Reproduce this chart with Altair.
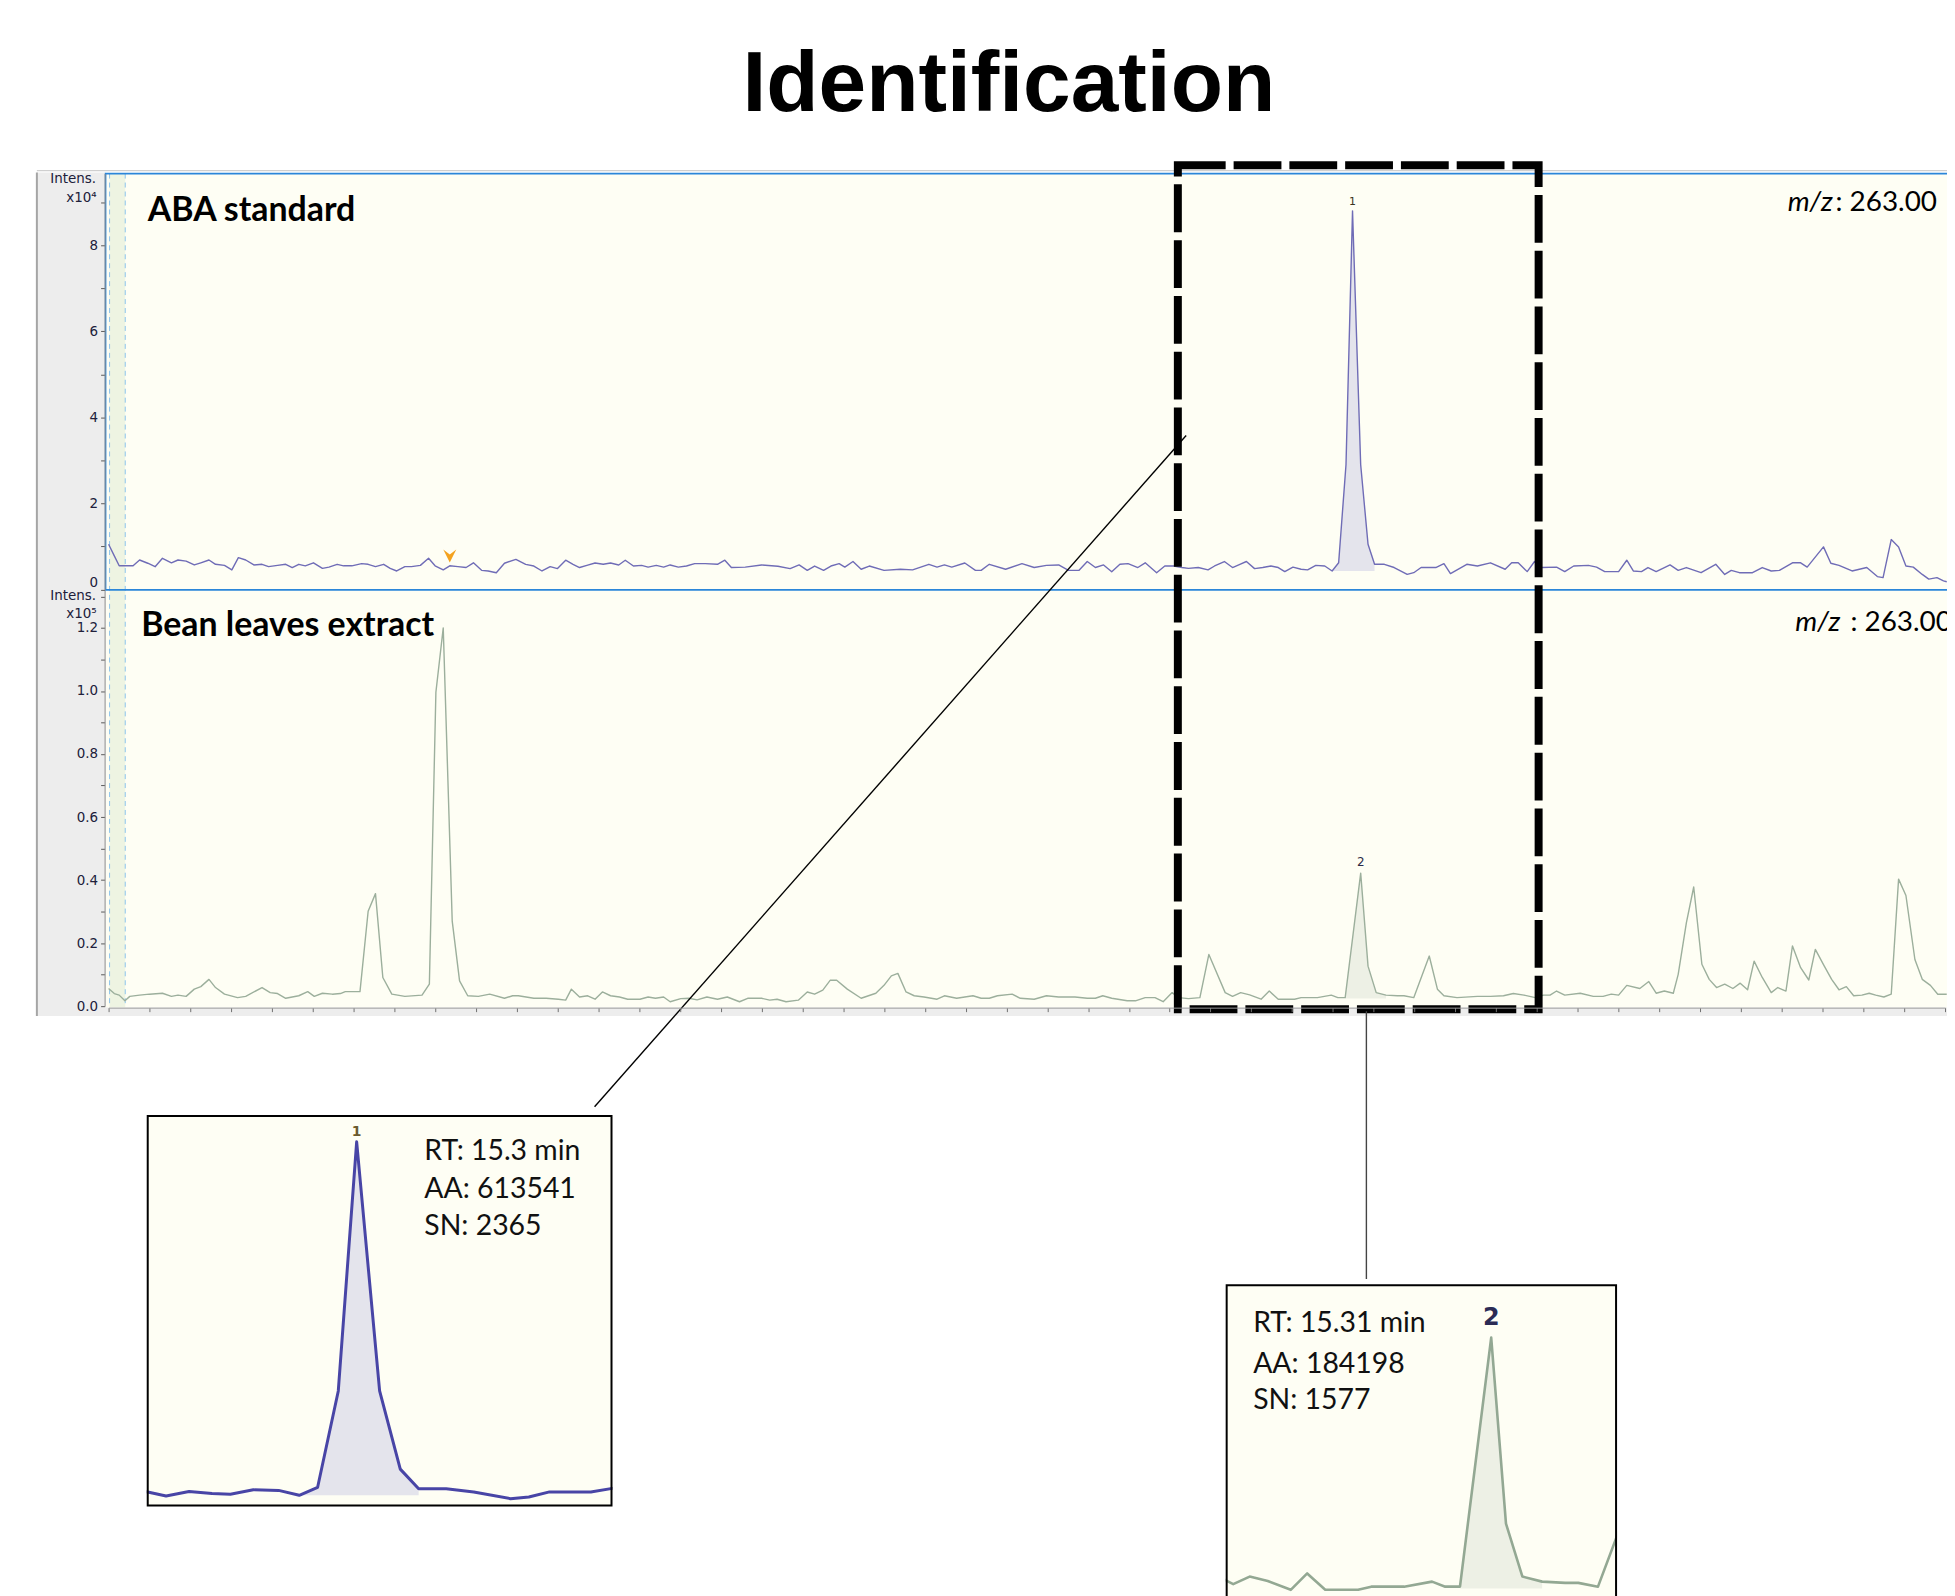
import altair as alt
import pandas as pd

# ---------------- data ----------------
title_text = "Identification"
panel_titles = ["ABA standard", "Bean leaves extract"]
mz_label = ["m/z", ": 263.00"]
intens_labels = ["Intens.", "x10\u2074", "x10\u2075"]
inset1_lines = ["RT: 15.3 min", "AA: 613541", "SN: 2365"]
inset2_lines = ["RT: 15.31 min", "AA: 184198", "SN: 1577"]

# ABA standard EIC (time in min, intensity in 1e4 counts)
aba_time = [
    0.00, 0.07, 0.13, 0.20, 0.30, 0.38, 0.48, 0.57, 0.66, 0.77,
    0.85, 0.95, 1.05, 1.13, 1.23, 1.31, 1.42, 1.51, 1.59, 1.68,
    1.78, 1.88, 1.96, 2.07, 2.17, 2.25, 2.33, 2.41, 2.51, 2.62,
    2.70, 2.80, 2.88, 2.98, 3.10, 3.18, 3.27, 3.37, 3.45, 3.53,
    3.63, 3.71, 3.82, 3.92, 4.00, 4.10, 4.18, 4.28, 4.38, 4.47,
    4.57, 4.65, 4.75, 4.85, 4.99,
    5.11, 5.21, 5.31, 5.41, 5.50, 5.60, 5.69, 5.77, 5.86, 5.96,
    6.06, 6.15, 6.25, 6.33, 6.43, 6.53, 6.61, 6.71, 6.80, 6.88,
    6.98, 7.08, 7.18, 7.31, 7.46, 7.55, 7.63, 7.80, 8.00, 8.20,
    8.35, 8.46, 8.56, 8.65, 8.76, 8.85, 8.95, 9.02, 9.12, 9.22,
    9.32, 9.50, 9.70, 9.85, 10.05, 10.15, 10.24, 10.33, 10.49, 10.62,
    10.69, 10.79, 10.99, 11.19, 11.34, 11.49, 11.64, 11.76, 11.89, 11.99,
    12.09, 12.19, 12.29, 12.39, 12.49, 12.61,
    12.70, 12.84, 12.94, 13.05, 13.15, 13.23, 13.35, 13.47, 13.55, 13.67,
    13.77, 13.86, 13.94, 14.04, 14.14, 14.24, 14.33, 14.41, 14.51, 14.61,
    14.69, 14.79, 14.90, 14.99, 15.07, 15.16, 15.24, 15.34, 15.43, 15.51,
    15.63, 15.75, 15.91, 15.99, 16.08, 16.26, 16.36, 16.44, 16.64, 16.77,
    16.93,
    17.11, 17.19, 17.27, 17.38, 17.47, 17.56, 17.74, 17.84, 17.95, 18.13,
    18.23, 18.33, 18.50, 18.60, 18.68, 18.78, 18.86, 18.96, 19.13, 19.23,
    19.33, 19.51, 19.69, 19.80, 19.88, 19.98, 20.14, 20.26, 20.37, 20.47,
    20.63, 20.73, 20.81, 21.01, 21.10, 21.20, 21.36, 21.54, 21.67, 21.74,
    21.84, 21.93, 22.02, 22.11, 22.22, 22.30, 22.40, 22.48, 22.52,
]
aba_int = [
    1.05, 0.78, 0.55, 0.55, 0.55, 0.685, 0.61, 0.53, 0.725, 0.62,
    0.685, 0.66, 0.57, 0.62, 0.685, 0.585, 0.56, 0.455, 0.74, 0.685,
    0.57, 0.585, 0.53, 0.56, 0.585, 0.51, 0.585, 0.55, 0.62, 0.49,
    0.52, 0.585, 0.55, 0.55, 0.60, 0.585, 0.53, 0.585, 0.49, 0.43,
    0.53, 0.53, 0.56, 0.725, 0.55, 0.455, 0.55, 0.53, 0.51, 0.62,
    0.445, 0.43, 0.39, 0.61, 0.70,
    0.585, 0.545, 0.43, 0.53, 0.485, 0.68, 0.585, 0.51, 0.56, 0.615,
    0.585, 0.615, 0.57, 0.68, 0.545, 0.56, 0.52, 0.56, 0.52, 0.57,
    0.52, 0.545, 0.60, 0.60, 0.585, 0.68, 0.51, 0.52, 0.57, 0.54,
    0.485, 0.57, 0.445, 0.545, 0.445, 0.545, 0.60, 0.52, 0.65, 0.47,
    0.545, 0.445, 0.47, 0.455, 0.585, 0.52, 0.57, 0.52, 0.615, 0.445,
    0.445, 0.585, 0.47, 0.60, 0.51, 0.56, 0.57, 0.445, 0.445, 0.65,
    0.51, 0.57, 0.41, 0.585, 0.60, 0.51,
    0.62, 0.39, 0.546, 0.546, 0.51, 0.49, 0.51, 0.455, 0.546, 0.65,
    0.51, 0.585, 0.65, 0.485, 0.51, 0.546, 0.51, 0.415, 0.52, 0.47,
    0.455, 0.56, 0.546, 0.43, 0.62, 2.90, 8.80, 2.90, 1.05, 0.585,
    0.585, 0.51, 0.35, 0.39, 0.51, 0.51, 0.60, 0.37, 0.585, 0.546,
    0.62,
    0.47, 0.62, 0.62, 0.415, 0.65, 0.51, 0.52, 0.415, 0.546, 0.56,
    0.52, 0.415, 0.415, 0.68, 0.43, 0.415, 0.51, 0.415, 0.57, 0.445,
    0.51, 0.39, 0.585, 0.35, 0.445, 0.39, 0.39, 0.51, 0.43, 0.445,
    0.62, 0.62, 0.52, 0.99, 0.61, 0.56, 0.43, 0.51, 0.30, 0.275,
    1.16, 0.99, 0.546, 0.52, 0.35, 0.24, 0.275, 0.20, 0.18,
]

# Bean leaves extract EIC (time in min, intensity in 1e5 counts)
bean_time = [
    0.00, 0.07, 0.13, 0.20, 0.26, 0.38, 0.50, 0.66, 0.77, 0.85,
    0.95, 1.05, 1.13, 1.23, 1.31, 1.42, 1.58, 1.68, 1.88, 1.98,
    2.07, 2.17, 2.33, 2.44, 2.52, 2.62, 2.74, 2.84, 2.90, 3.08,
    3.18, 3.27, 3.36, 3.47, 3.63, 3.84, 3.93, 4.01, 4.10, 4.21,
    4.30, 4.40, 4.53, 4.67, 4.85, 4.95,
    5.02, 5.21, 5.36, 5.51, 5.60, 5.67, 5.77, 5.87, 5.96, 6.05,
    6.15, 6.26, 6.36, 6.51, 6.61, 6.70, 6.80, 6.88, 7.01, 7.11,
    7.21, 7.33, 7.46, 7.58, 7.73, 7.83, 8.00, 8.10, 8.19, 8.30,
    8.45, 8.56, 8.65, 8.75, 8.84, 8.92, 9.05, 9.22, 9.40, 9.50,
    9.59, 9.67, 9.77, 9.87, 9.99, 10.15, 10.24, 10.39, 10.59, 10.69,
    10.79, 10.89, 11.07, 11.17, 11.34, 11.49, 11.64, 11.84, 11.99, 12.09,
    12.18, 12.29, 12.48, 12.58,
    12.70, 12.82, 12.92, 13.03, 13.11, 13.23, 13.37, 13.48, 13.68, 13.77,
    13.87, 13.98, 14.12, 14.22, 14.33, 14.53, 14.61, 14.81, 14.98, 15.06,
    15.15, 15.34, 15.43, 15.53, 15.65, 15.79, 15.87, 15.99, 16.18, 16.28,
    16.36, 16.52, 16.77, 16.93,
    17.09, 17.21, 17.34, 17.48, 17.58, 17.66, 17.74, 17.84, 18.03, 18.19,
    18.31, 18.41, 18.50, 18.60, 18.76, 18.87, 18.96, 19.06, 19.17, 19.23,
    19.33, 19.42, 19.52, 19.61, 19.70, 19.80, 19.90, 19.99, 20.08, 20.16,
    20.26, 20.37, 20.45, 20.55, 20.63, 20.73, 20.83, 20.91, 21.02, 21.11,
    21.20, 21.29, 21.38, 21.48, 21.57, 21.65, 21.75, 21.84, 21.93, 22.02,
    22.13, 22.22, 22.32, 22.41, 22.52,
]
bean_int = [
    0.056, 0.040, 0.035, 0.017, 0.031, 0.035, 0.038, 0.041, 0.031, 0.035,
    0.031, 0.054, 0.062, 0.085, 0.059, 0.038, 0.027, 0.031, 0.059, 0.043,
    0.040, 0.025, 0.033, 0.046, 0.031, 0.041, 0.038, 0.040, 0.046, 0.046,
    0.301, 0.357, 0.091, 0.038, 0.031, 0.035, 0.070, 0.996, 1.200, 0.270,
    0.080, 0.033, 0.031, 0.038, 0.025, 0.033,
    0.033, 0.025, 0.025, 0.022, 0.019, 0.054, 0.029, 0.033, 0.022, 0.045,
    0.033, 0.029, 0.022, 0.022, 0.029, 0.025, 0.029, 0.014, 0.024, 0.025,
    0.020, 0.029, 0.022, 0.029, 0.014, 0.025, 0.025, 0.019, 0.022, 0.014,
    0.019, 0.045, 0.038, 0.051, 0.082, 0.082, 0.054, 0.025, 0.041, 0.066,
    0.096, 0.104, 0.045, 0.033, 0.029, 0.022, 0.033, 0.025, 0.033, 0.025,
    0.025, 0.033, 0.038, 0.025, 0.022, 0.033, 0.029, 0.029, 0.025, 0.025,
    0.033, 0.025, 0.017, 0.017,
    0.027, 0.027, 0.014, 0.043, 0.027, 0.024, 0.027, 0.164, 0.043, 0.031,
    0.043, 0.036, 0.022, 0.048, 0.022, 0.022, 0.027, 0.027, 0.035, 0.027,
    0.027, 0.422, 0.127, 0.043, 0.035, 0.033, 0.033, 0.027, 0.159, 0.054,
    0.033, 0.027, 0.031, 0.031,
    0.033, 0.040, 0.035, 0.027, 0.035, 0.035, 0.048, 0.035, 0.041, 0.031,
    0.031, 0.038, 0.035, 0.066, 0.056, 0.078, 0.041, 0.048, 0.041, 0.101,
    0.264, 0.378, 0.133, 0.085, 0.059, 0.070, 0.056, 0.073, 0.052, 0.143,
    0.091, 0.043, 0.059, 0.048, 0.191, 0.122, 0.083, 0.180, 0.127, 0.085,
    0.052, 0.062, 0.033, 0.035, 0.041, 0.035, 0.029, 0.038, 0.403, 0.351,
    0.148, 0.085, 0.066, 0.038, 0.038,
]

peak_names = ["1", "2"]
peak_time = [15.24, 15.34]
peak_int = [8.80, 0.422]          # 1e4 (ABA), 1e5 (bean)
peak1_window = [14.99, 15.51]
peak1_base = 0.43
peak2_window = [15.15, 15.65]
peak2_base = 0.024
marker_time = [4.18]
marker_int = [0.78]
spectrum_window = [0.012, 0.204]
zoom_box_time = [13.10, 17.52]
inset1_range = [14.33, 16.35]
inset2_range = [13.73, 16.10]
x_ticks = [i * 0.5 for i in range(46)]
top_ticks = list(range(10))
bot_ticks = [round(i * 0.1, 1) for i in range(14)]

# ---------------- chart ----------------
W, H = 1947, 1588
IVORY = "#FEFEF4"

aba = pd.DataFrame({"t": aba_time, "v": aba_int})
bean = pd.DataFrame({"t": bean_time, "v": bean_int})
one = pd.DataFrame({"k": [0]})


def sc(domain, rng):
    return alt.Scale(domain=domain, range=rng, nice=False, zero=False)


X_MAIN = sc([0, 22.5], [101, 101 + 22.5 * 81.96])
Y_TOP = sc([0, 9.67], [580.6, 580.6 - 9.67 * 43.2])
Y_BOT = sc([0, 1.32], [999, 999 - 1.32 * 316.5])
X_IN1 = sc(inset1_range, [140.3, 606])
Y_IN1 = sc([0, 9.41], [1508.4, 1109.3])
X_IN2 = sc(inset2_range, [1223.7, 1614.7])
Y_IN2 = sc([0, 0.505], [1599, 1279.3])

axis_common = dict(
    orient="left", offset=-97, tickSize=4, tickColor="#5a5a5a",
    domainColor="#8c8c8c", labelColor="#20203a", labelFont="DejaVu Sans",
    labelFontSize=13.5, labelPadding=3, grid=False, title=None, zindex=1,
)
top_axis = alt.Axis(values=top_ticks, format="d", labelFlush=True,
                    labelExpr="datum.value % 2 === 0 ? datum.label : ''",
                    **axis_common)
bot_axis = alt.Axis(values=bot_ticks, format=".1f", labelFlush=False,
                    labelExpr="round(datum.value * 10) % 2 === 0 ? datum.label : ''",
                    **axis_common)
x_axis = alt.Axis(orient="bottom", offset=-(H - 1000.5), values=x_ticks,
                  labels=False, tickSize=4, tickColor="#707070",
                  domainColor="#9c9c9c", grid=False, title=None, zindex=1)


def box(x1, x2, y1, y2, **kw):
    return alt.Chart(one).mark_rect(**kw).encode(
        x=alt.value(x1), x2=alt.value(x2), y=alt.value(y1), y2=alt.value(y2))


def rule(x1, y1, x2, y2, **kw):
    return alt.Chart(one).mark_rule(**kw).encode(
        x=alt.value(x1), y=alt.value(y1), x2=alt.value(x2), y2=alt.value(y2))


def label(x, y, s, **kw):
    kw.setdefault("baseline", "alphabetic")
    return alt.Chart(one).mark_text(**kw).encode(
        x=alt.value(x), y=alt.value(y), text=alt.value(s))


def trace(df, xs, ys, color, width, lo=None, hi=None, xaxis=None, yaxis=None):
    c = alt.Chart(df)
    if lo is not None:
        c = c.transform_filter(f"datum.t >= {lo} && datum.t <= {hi}")
    return c.mark_line(color=color, strokeWidth=width, strokeJoin="round").encode(
        x=alt.X("t:Q", scale=xs, axis=xaxis),
        y=alt.Y("v:Q", scale=ys, axis=yaxis))


def peakfill(df, xs, ys, window, base, color):
    return alt.Chart(df).transform_filter(
        f"datum.t >= {window[0]} && datum.t <= {window[1]}"
    ).mark_area(color=color).encode(
        x=alt.X("t:Q", scale=xs, axis=None),
        y=alt.Y("v:Q", scale=ys, axis=None),
        y2=alt.datum(base))


def peaklabel(i, xs, ys, dy, size, color, weight="normal"):
    d = pd.DataFrame({"t": [peak_time[i]], "v": [peak_int[i]], "lab": [peak_names[i]]})
    return alt.Chart(d).mark_text(dy=dy, fontSize=size, font="DejaVu Sans",
                                  fontWeight=weight, color=color, baseline="middle").encode(
        x=alt.X("t:Q", scale=xs, axis=None),
        y=alt.Y("v:Q", scale=ys, axis=None),
        text="lab:N")


win_df = pd.DataFrame({"t0": [spectrum_window[0]], "t1": [spectrum_window[1]]})
win_lines = pd.DataFrame({"t": spectrum_window})
zoom_df = pd.DataFrame({"t0": [zoom_box_time[0]], "t1": [zoom_box_time[1]]})
marker_df = pd.DataFrame({"t": marker_time, "v": marker_int})

body_font = "Lato"
cap = dict(align="right", font="DejaVu Sans", fontSize=13.5, color="#20203a")
layers = [
    # frame of the chromatogram window
    box(29, 98, 162, 1009, color="#EDEDED"),
    box(29, W, 1000, 1009, color="#EDEDED"),
    rule(29, 162, 29, 1009, color="#A5A5A5", strokeWidth=2),
    rule(29, 160, W, 160, color="#CFCFCF", strokeWidth=1.2),
    box(98, W, 163, 581, color=IVORY),
    box(98, W, 581, 1000, color=IVORY),
    alt.Chart(win_df).mark_rect(color="#EEF4E2").encode(
        x=alt.X("t0:Q", scale=X_MAIN, axis=None), x2="t1:Q",
        y=alt.value(163), y2=alt.value(1000)),
    alt.Chart(win_lines).mark_rule(color="#8CC4EC", strokeDash=[5, 4], strokeWidth=1).encode(
        x=alt.X("t:Q", scale=X_MAIN, axis=None), y=alt.value(163), y2=alt.value(1000)),
    # peak areas + traces
    peakfill(aba, X_MAIN, Y_TOP, peak1_window, peak1_base, "#E4E4EC"),
    peakfill(bean, X_MAIN, Y_BOT, peak2_window, peak2_base, "#EDF0E5"),
    trace(aba, X_MAIN, Y_TOP, "#6F6CB6", 1.4, yaxis=top_axis),
    trace(bean, X_MAIN, Y_BOT, "#9CAF9C", 1.4, xaxis=x_axis, yaxis=bot_axis),
    box(98, W + 10, 163, 581, fillOpacity=0, stroke="#2B86D9", strokeWidth=1.6),
    peaklabel(0, X_MAIN, Y_TOP, -9, 11, "#3a3320"),
    peaklabel(1, X_MAIN, Y_BOT, -11, 12, "#2b2b45"),
    alt.Chart(marker_df).mark_point(shape="M-1,-1L0,-0.2L1,-1L0,1Z", filled=True,
                                    color="#F4A21E", size=170, opacity=1).encode(
        x=alt.X("t:Q", scale=X_MAIN, axis=None),
        y=alt.Y("v:Q", scale=Y_TOP, axis=None)),
    # axis captions
    label(88.5, 172.2, intens_labels[0], **cap),
    label(89, 191.3, intens_labels[1], **cap),
    label(88.5, 591.2, intens_labels[0], **cap),
    label(89, 609.7, intens_labels[2], **cap),
    # panel texts
    label(140.3, 211, panel_titles[0], align="left", font=body_font, fontSize=34, fontWeight="bold", color="black"),
    label(133.7, 627, panel_titles[1], align="left", font=body_font, fontSize=34, fontWeight="bold", color="black"),
    label(1787, 200.3, mz_label[0], align="left", font=body_font, fontSize=28, fontStyle="italic", color="black"),
    label(1835, 200.3, mz_label[1], align="left", font=body_font, fontSize=28, color="black"),
    label(1794.7, 622.7, mz_label[0], align="left", font=body_font, fontSize=28, fontStyle="italic", color="black"),
    label(1850, 622.7, mz_label[1], align="left", font=body_font, fontSize=28, color="black"),
    # title
    label(1005, 100, title_text, align="center", font="Liberation Sans", fontSize=86, fontWeight="bold", color="black"),
    # inset 1 (ABA peak)
    box(140.3, 606, 1109.3, 1500.3, color=IVORY),
    peakfill(aba, X_IN1, Y_IN1, peak1_window, peak1_base, "#E4E4EC"),
    trace(aba, X_IN1, Y_IN1, "#4845A6", 3, lo=14.24, hi=16.44),
    box(100, 139.3, 1105, 1505, color="white"),
    box(607, 650, 1105, 1505, color="white"),
    box(140.3, 606, 1109.3, 1500.3, fillOpacity=0, stroke="black", strokeWidth=2),
    peaklabel(0, X_IN1, Y_IN1, -10, 14, "#6b5a2e", "bold"),
    # inset 2 (bean peak)
    box(1223.7, 1614.7, 1279.3, 1640, color=IVORY),
    peakfill(bean, X_IN2, Y_IN2, peak2_window, peak2_base, "#EDF0E5"),
    trace(bean, X_IN2, Y_IN2, "#93A893", 2.6, lo=13.68, hi=16.18),
    box(1190, 1222.7, 1275, 1640, color="white"),
    box(1615.7, 1660, 1275, 1640, color="white"),
    box(1223.7, 1614.7, 1279.3, 1640, fillOpacity=0, stroke="black", strokeWidth=2),
    peaklabel(1, X_IN2, Y_IN2, -20, 24, "#2b2b55", "bold"),
]
for i, s in enumerate(inset1_lines):
    layers.append(label(418, [1153.7, 1192, 1228.7][i], s, align="left", font=body_font, fontSize=28.5, color="#111"))
for i, s in enumerate(inset2_lines):
    layers.append(label(1250.3, [1326.3, 1367, 1403.7][i], s, align="left", font=body_font, fontSize=28.5, color="#111"))

layers += [
    # zoom box and connectors
    alt.Chart(zoom_df).mark_rect(fillOpacity=0, stroke="black", strokeWidth=8,
                                 strokeDash=[48, 8]).encode(
        x=alt.X("t0:Q", scale=X_MAIN, axis=None), x2="t1:Q",
        y=alt.value(154.7), y2=alt.value(1002)),
    rule(589, 1100, 1183, 426, color="black", strokeWidth=1.4),
    rule(1364, 1004, 1364, 1273, color="#444444", strokeWidth=1.4),
]

chart = alt.layer(*layers).resolve_scale(
    x="independent", y="independent"
).properties(
    width=W, height=H, autosize=alt.AutoSizeParams(type="none"), padding=0,
    background="white",
).configure_view(stroke=None)

chart.save("out.html", embed_options={"renderer": "svg", "actions": False})
